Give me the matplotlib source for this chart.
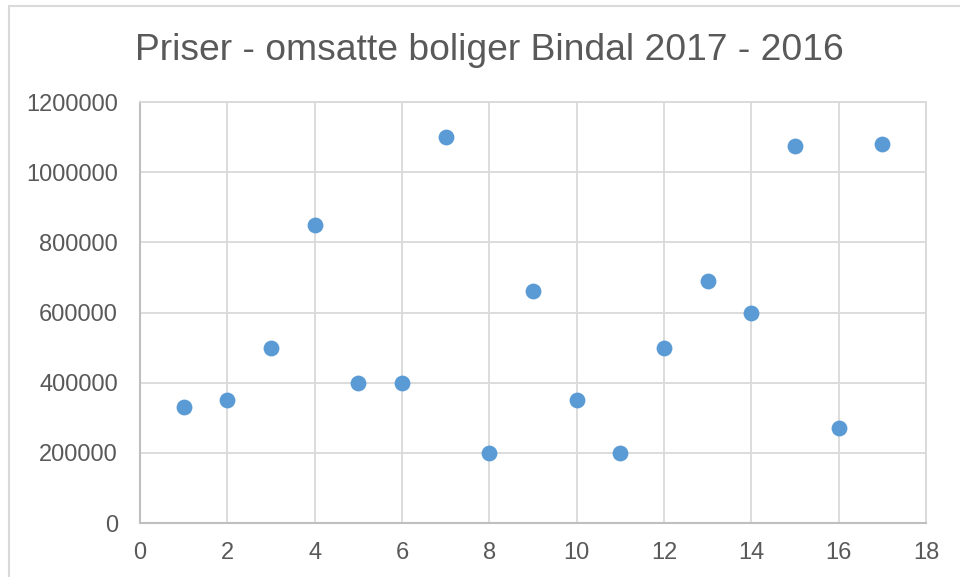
import matplotlib.pyplot as plt
from matplotlib.patches import Rectangle

plt.rcParams['font.family'] = ['Liberation Sans', 'DejaVu Sans']

# Data
nr = [1, 2, 3, 4, 5, 6, 7, 8, 9, 10, 11, 12, 13, 14, 15, 16, 17]
pris = [330000, 350000, 500000, 850000, 400000, 400000, 1100000, 200000,
        660000, 350000, 200000, 500000, 690000, 600000, 1075000, 270000, 1080000]
xticks = list(range(0, 19, 2))
yticks = list(range(0, 1200001, 200000))

text_col = '#595959'
grid_col = '#D9D9D9'

fig = plt.figure(figsize=(9.6, 5.77), dpi=100)
# outer chart border
fig.patches.append(Rectangle((9 / 960, -0.1), 1.1, (577 - 6) / 577 + 0.1,
                             transform=fig.transFigure, fill=False,
                             edgecolor=grid_col, linewidth=1.5))

ax = fig.add_axes([140 / 960, 1 - 523 / 577, (926 - 140) / 960, (523 - 102) / 577])
ax.scatter(nr, pris, s=130, color='#5B9BD5', zorder=3, linewidths=0)

ax.set_xlim(0, 18)
ax.set_ylim(0, 1200000)
ax.set_xticks(xticks)
ax.set_yticks(yticks)
ax.set_yticklabels([str(v) for v in yticks])
ax.grid(True, color=grid_col, linewidth=1.3)
ax.set_axisbelow(True)
for side in ['top', 'right']:
    ax.spines[side].set_color(grid_col)
    ax.spines[side].set_linewidth(1.3)
for side in ['left', 'bottom']:
    ax.spines[side].set_color('#BFBFBF')
    ax.spines[side].set_linewidth(1.5)
ax.tick_params(length=0, labelsize=17, colors=text_col)
ax.tick_params(axis='y', pad=16)
ax.tick_params(axis='x', pad=14)

fig.text(489 / 960, 1 - 50 / 577, 'Priser - omsatte boliger Bindal 2017 - 2016',
         ha='center', va='center', fontsize=26.8, color=text_col)

fig.savefig('out.png', dpi=100)
